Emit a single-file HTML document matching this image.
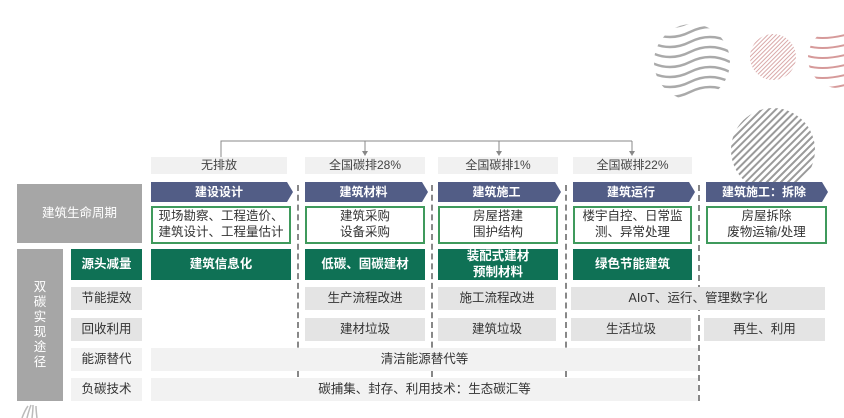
<!DOCTYPE html>
<html><head><meta charset="utf-8"><style>
body{margin:0;width:844px;height:418px;background:#fff;position:relative;overflow:hidden;font-family:"Liberation Sans","Noto Sans CJK SC",sans-serif;}
.b{position:absolute;display:flex;align-items:center;justify-content:center;text-align:center;box-sizing:border-box;line-height:1.25;}
.top{background:#f1f1f1;color:#444;font-size:12px;}
.ol{border:2px solid #3f9a5c;background:#fff;color:#333;font-size:12.5px;}
.gr{background:#0f7155;color:#fff;font-size:12.5px;font-weight:bold;}
.lg{background:#e4e4e4;color:#333;font-size:12.5px;}
.ll{background:#f2f2f2;color:#333;font-size:12.5px;}
.dash{position:absolute;width:0;border-left:2px dashed #888;}
</style></head><body>
<svg width="844" height="418" style="position:absolute;left:0;top:0">
<defs>
<pattern id="p1" width="5" height="5" patternUnits="userSpaceOnUse" patternTransform="rotate(45)"><rect width="2" height="5" fill="#9a9a9a"/></pattern>
<pattern id="p2" width="3" height="3" patternUnits="userSpaceOnUse" patternTransform="rotate(45)"><rect width="1" height="3" fill="#d9a8a8"/></pattern>
<clipPath id="c1"><circle cx="692" cy="62" r="38"/></clipPath>
<clipPath id="c3"><circle cx="838" cy="58" r="30"/></clipPath>
</defs>
<g clip-path="url(#c1)" stroke="#aaa" stroke-width="2.5" fill="none">
<path d="M650 32 q20 10 40 0 t40 0"/><path d="M650 42 q20 10 40 0 t40 0"/><path d="M650 52 q20 10 40 0 t40 0"/><path d="M650 62 q20 10 40 0 t40 0"/><path d="M650 72 q20 10 40 0 t40 0"/><path d="M650 82 q20 10 40 0 t40 0"/><path d="M650 92 q20 10 40 0 t40 0"/><path d="M650 22 q20 10 40 0 t40 0"/>
</g>
<circle cx="773" cy="57" r="23" fill="url(#p2)"/>
<g clip-path="url(#c3)" stroke="#d69a9a" stroke-width="2" fill="none">
<path d="M805 35 q15 6 40 0"/><path d="M805 45 q15 6 40 0"/><path d="M805 55 q15 6 40 0"/><path d="M805 65 q15 6 40 0"/><path d="M805 75 q15 6 40 0"/><path d="M805 85 q15 6 40 0"/>
</g>
<circle cx="773" cy="150" r="42" fill="url(#p1)"/>
<polyline points="221,157 221,141 632,141" fill="none" stroke="#888" stroke-width="1"/>
<line x1="365" y1="141" x2="365" y2="154" stroke="#888"/><path d="M362 151 L365 156 L368 151Z" fill="#888"/>
<line x1="499" y1="141" x2="499" y2="154" stroke="#888"/><path d="M496 151 L499 156 L502 151Z" fill="#888"/>
<line x1="632" y1="141" x2="632" y2="154" stroke="#888"/><path d="M629 151 L632 156 L635 151Z" fill="#888"/>
<polygon points="151,182 287,182 293,192 287,202 151,202" fill="#525d86"/>
<polygon points="305,182 422,182 428,192 422,202 305,202" fill="#525d86"/>
<polygon points="438,182 555,182 561,192 555,202 438,202" fill="#525d86"/>
<polygon points="573,182 689,182 695,192 689,202 573,202" fill="#525d86"/>
<polygon points="706,182 822,182 828,192 822,202 706,202" fill="#525d86"/>
<g stroke="#bbb" stroke-width="1.5" fill="none"><path d="M22 418 q3-8 6-12"/><path d="M27 418 q2-8 4-13"/><path d="M32 418 q1-8 1-13"/><path d="M37 418 q-1-8-1-12"/></g>
</svg>
<div class="dash" style="left:297px;top:185px;height:192px"></div>
<div class="dash" style="left:431px;top:185px;height:192px"></div>
<div class="dash" style="left:565px;top:185px;height:192px"></div>
<div class="dash" style="left:698px;top:185px;height:216px"></div>

<div class="b top" style="left:151px;top:157px;width:136px;height:17px">无排放</div>
<div class="b top" style="left:305px;top:157px;width:120px;height:17px">全国碳排28%</div>
<div class="b top" style="left:438px;top:157px;width:120px;height:17px">全国碳排1%</div>
<div class="b top" style="left:573px;top:157px;width:119px;height:17px">全国碳排22%</div>

<div class="b" style="left:151px;top:182px;width:136px;height:20px;color:#fff;font-size:12px;font-weight:bold">建设设计</div>
<div class="b" style="left:305px;top:182px;width:117px;height:20px;color:#fff;font-size:12px;font-weight:bold">建筑材料</div>
<div class="b" style="left:438px;top:182px;width:117px;height:20px;color:#fff;font-size:12px;font-weight:bold">建筑施工</div>
<div class="b" style="left:573px;top:182px;width:116px;height:20px;color:#fff;font-size:12px;font-weight:bold">建筑运行</div>
<div class="b" style="left:706px;top:182px;width:116px;height:20px;color:#fff;font-size:12px;font-weight:bold">建筑施工：拆除</div>

<div class="b" style="left:17px;top:184px;width:125px;height:59px;background:#a6a6a6;color:#fff;font-size:12.5px">建筑生命周期</div>
<div class="b ol" style="left:151px;top:206px;width:140px;height:38px">现场勘察、工程造价、<br>建筑设计、工程量估计</div>
<div class="b ol" style="left:305px;top:206px;width:120px;height:38px">建筑采购<br>设备采购</div>
<div class="b ol" style="left:438px;top:206px;width:120px;height:38px">房屋搭建<br>围护结构</div>
<div class="b ol" style="left:573px;top:206px;width:119px;height:38px">楼宇自控、日常监<br>测、异常处理</div>
<div class="b ol" style="left:706px;top:206px;width:121px;height:38px">房屋拆除<br>废物运输/处理</div>

<div class="b" style="left:17px;top:249px;width:46px;height:152px;background:#a6a6a6;color:#fff;font-size:12.5px;line-height:1.2">双<br>碳<br>实<br>现<br>途<br>径</div>
<div class="b gr" style="left:71px;top:249px;width:71px;height:31px">源头减量</div>
<div class="b gr" style="left:151px;top:249px;width:140px;height:31px">建筑信息化</div>
<div class="b gr" style="left:305px;top:249px;width:120px;height:31px">低碳、固碳建材</div>
<div class="b gr" style="left:438px;top:249px;width:120px;height:31px">装配式建材<br>预制材料</div>
<div class="b gr" style="left:573px;top:249px;width:119px;height:31px">绿色节能建筑</div>

<div class="b lg" style="left:71px;top:287px;width:71px;height:23px">节能提效</div>
<div class="b lg" style="left:305px;top:287px;width:120px;height:23px">生产流程改进</div>
<div class="b lg" style="left:438px;top:287px;width:118px;height:23px">施工流程改进</div>
<div class="b lg" style="left:571px;top:287px;width:254px;height:23px">AIoT、运行、管理数字化</div>

<div class="b lg" style="left:71px;top:318px;width:71px;height:23px">回收利用</div>
<div class="b lg" style="left:305px;top:318px;width:120px;height:23px">建材垃圾</div>
<div class="b lg" style="left:438px;top:318px;width:118px;height:23px">建筑垃圾</div>
<div class="b lg" style="left:571px;top:318px;width:120px;height:23px">生活垃圾</div>
<div class="b lg" style="left:704px;top:318px;width:121px;height:23px">再生、利用</div>

<div class="b ll" style="left:71px;top:348px;width:71px;height:23px">能源替代</div>
<div class="b ll" style="left:151px;top:348px;width:547px;height:23px">清洁能源替代等</div>
<div class="b ll" style="left:71px;top:378px;width:71px;height:23px">负碳技术</div>
<div class="b ll" style="left:151px;top:378px;width:547px;height:23px">碳捕集、封存、利用技术：生态碳汇等</div>
</body></html>
